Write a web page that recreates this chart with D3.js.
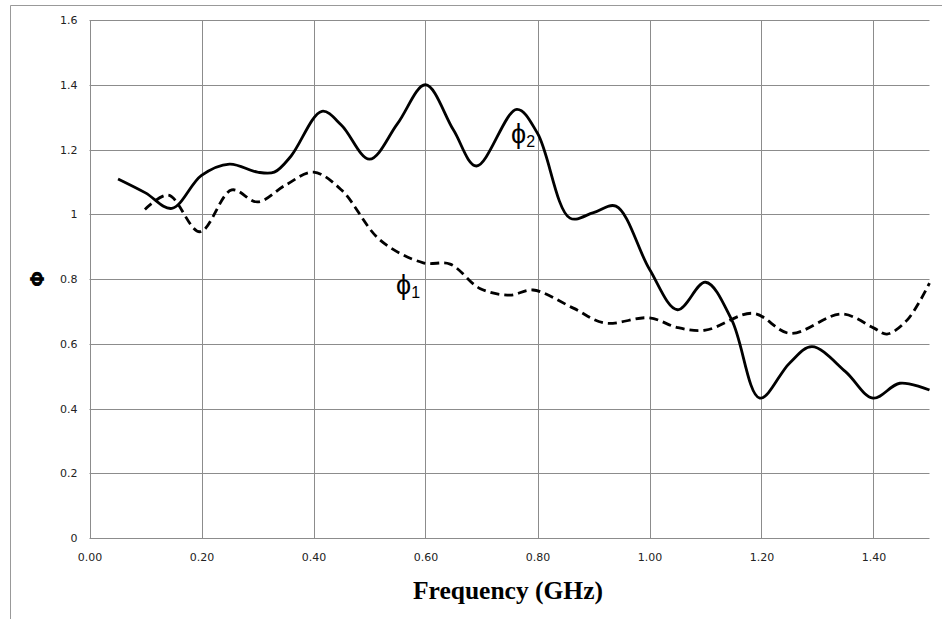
<!DOCTYPE html>
<html>
<head>
<meta charset="utf-8">
<script src="https://cdn.jsdelivr.net/npm/d3@7"></script>
<style>
  body { margin: 0; background: #fff; }
  svg { display: block; }
</style>
</head>
<body>
<div id="chart"></div>
<script>
// phi vs frequency, two smoothed curves

var width = 942,
    height = 619;

var margin = {left: 89.5, top: 20, right: 12.5, bottom: 81};

// data
var phi2Freq = [0.051, 0.10, 0.147, 0.20, 0.25, 0.30, 0.33, 0.36, 0.415, 0.45, 0.50, 0.55, 0.60, 0.65, 0.691, 0.763, 0.80, 0.858, 0.90, 0.94, 1.00, 1.05, 1.10, 1.147, 1.197, 1.25, 1.29, 1.35, 1.399, 1.447, 1.50];
var phi2Vals = [1.109, 1.066, 1.018, 1.12, 1.155, 1.13, 1.13, 1.18, 1.318, 1.275, 1.17, 1.28, 1.40, 1.26, 1.149, 1.324, 1.25, 0.988, 1.005, 1.025, 0.83, 0.705, 0.79, 0.673, 0.432, 0.54, 0.591, 0.514, 0.432, 0.478, 0.457];

var phi1Freq = [0.099, 0.141, 0.197, 0.254, 0.30, 0.35, 0.40, 0.45, 0.519, 0.596, 0.644, 0.697, 0.751, 0.792, 0.864, 0.92, 1.00, 1.05, 1.10, 1.185, 1.251, 1.343, 1.40, 1.424, 1.46, 1.50];
var phi1Vals = [1.015, 1.059, 0.946, 1.075, 1.038, 1.09, 1.13, 1.075, 0.92, 0.85, 0.846, 0.771, 0.75, 0.766, 0.71, 0.664, 0.68, 0.65, 0.642, 0.694, 0.632, 0.692, 0.649, 0.63, 0.673, 0.787];

var xTicks = [0, 0.2, 0.4, 0.6, 0.8, 1.0, 1.2, 1.4];
var yTicks = [0, 0.2, 0.4, 0.6, 0.8, 1.0, 1.2, 1.4, 1.6];

var svg = d3.select("#chart").append("svg")
    .attr("width", width)
    .attr("height", height);

// outer frame
svg.append("path")
    .attr("d", "M10.5,619 V5.5 H942")
    .attr("fill", "none")
    .attr("stroke", "#999")
    .attr("stroke-width", 1);

var x = d3.scaleLinear()
    .domain([0, 1.5])
    .range([margin.left, width - margin.right]);

var y = d3.scaleLinear()
    .domain([0, 1.6])
    .range([height - margin.bottom, margin.top]);

// grid
svg.append("g")
    .selectAll("line.h")
    .data(yTicks)
    .enter().append("line")
    .attr("x1", x(0)).attr("x2", x(1.5))
    .attr("y1", d => Math.round(y(d)) + 0.5)
    .attr("y2", d => Math.round(y(d)) + 0.5)
    .attr("stroke", "#8c8c8c")
    .attr("stroke-width", 1);

svg.append("g")
    .selectAll("line.v")
    .data(xTicks)
    .enter().append("line")
    .attr("x1", d => Math.round(x(d)) + 0.5)
    .attr("x2", d => Math.round(x(d)) + 0.5)
    .attr("y1", y(0)).attr("y2", y(1.6))
    .attr("stroke", "#8c8c8c")
    .attr("stroke-width", 1);

// axes (labels only, lines come from the grid)
var xAxis = svg.append("g")
    .attr("transform", "translate(0," + y(0) + ")")
    .call(d3.axisBottom(x).tickValues(xTicks).tickFormat(d3.format(".2f")).tickSize(0).tickPadding(15));

var yAxis = svg.append("g")
    .attr("transform", "translate(" + x(0) + ",0)")
    .call(d3.axisLeft(y).tickValues(yTicks).tickFormat(d => d3.format("")(+d.toFixed(1))).tickSize(0).tickPadding(12));

[xAxis, yAxis].forEach(function(g) {
  g.select(".domain").remove();
  g.selectAll("text")
    .attr("font-family", "'DejaVu Sans', Verdana, sans-serif")
    .attr("font-size", 11)
    .attr("fill", "#222");
});

// curves
var line = d3.line()
    .x(d => x(d[0]))
    .y(d => y(d[1]))
    .curve(d3.curveCatmullRom.alpha(0.5));

svg.append("path")
    .datum(d3.zip(phi2Freq, phi2Vals))
    .attr("d", line)
    .attr("fill", "none")
    .attr("stroke", "#000")
    .attr("stroke-width", 2.8);

svg.append("path")
    .datum(d3.zip(phi1Freq, phi1Vals))
    .attr("d", line)
    .attr("fill", "none")
    .attr("stroke", "#000")
    .attr("stroke-width", 2.8)
    .attr("stroke-dasharray", "9,5");

// curve labels
function phiLabel(px, py, sub) {
  var t = svg.append("text")
      .attr("x", px).attr("y", py)
      .attr("font-family", "'Liberation Sans', Arial, sans-serif")
      .attr("font-size", 27)
      .attr("fill", "#000");
  t.append("tspan").text("\u03D5");
  t.append("tspan").attr("font-size", 16).attr("dy", 4).text(sub);
}
phiLabel(396, 294, "1");
phiLabel(511, 143, "2");

// axis titles
svg.append("text")
    .attr("x", 508)
    .attr("y", 599)
    .attr("text-anchor", "middle")
    .attr("font-family", "'Liberation Serif', 'Times New Roman', serif")
    .attr("font-weight", "bold")
    .attr("font-size", 25.5)
    .text("Frequency (GHz)");

svg.append("text")
    .attr("transform", "translate(44,279) rotate(-90)")
    .attr("text-anchor", "middle")
    .attr("font-family", "'DejaVu Sans', sans-serif")
    .attr("font-weight", "bold")
    .attr("font-size", 19)
    .text("\u03A6");
</script>
</body>
</html>
